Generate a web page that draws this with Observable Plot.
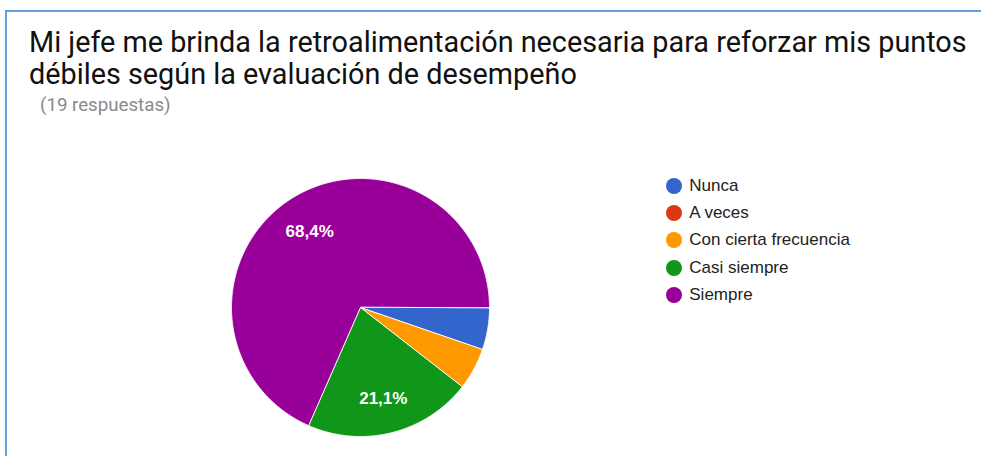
<!DOCTYPE html>
<html>
<head>
<meta charset="utf-8">
<script src="https://cdn.jsdelivr.net/npm/d3@7"></script>
<script src="https://cdn.jsdelivr.net/npm/@observablehq/plot@0.6"></script>
<style>
  html, body { margin: 0; padding: 0; background: #fff; }
  #root { position: relative; width: 981px; height: 456px; overflow: hidden; }
  #frame { position: absolute; left: 5px; top: 10px; width: 990px; height: 460px;
           border-left: 2px solid #64a0dc; border-top: 2px solid #64a0dc; }
  #title { position: absolute; left: 29px; top: 27px; width: 950px;
           font-family: Roboto, "Noto Sans", sans-serif; font-size: 28.8px; line-height: 31.5px; color: #111; }
  #subtitle { position: absolute; left: 40px; top: 93.5px;
           font-family: Roboto, "Noto Sans", sans-serif; font-size: 18.7px; line-height: 22px; color: #8a8a8a; }
  #pie { position: absolute; left: 228.5px; top: 175.5px; }
  #legend { position: absolute; left: 665.7px; top: 172px;
            font-family: "Liberation Sans", Arial, sans-serif; font-size: 17px; color: #222; }
  .row { display: flex; align-items: center; height: 27.4px; white-space: nowrap; }
  .dot { width: 16px; height: 16px; border-radius: 50%; margin-right: 7.6px; flex: none; }
</style>
</head>
<body>
<div id="root">
  <div id="frame"></div>
  <div id="title"></div>
  <div id="subtitle"></div>
  <div id="pie"></div>
  <div id="legend"></div>
</div>
<script>
const titleText = "Mi jefe me brinda la retroalimentación necesaria para reforzar mis puntos débiles según la evaluación de desempeño";
const subtitleText = "(19 respuestas)";
const categories = ["Nunca", "A veces", "Con cierta frecuencia", "Casi siempre", "Siempre"];
const counts = [1, 0, 1, 4, 13];
const colors = ["#3366cc", "#dc3912", "#ff9900", "#109618", "#990099"];

document.getElementById("title").textContent = titleText;
document.getElementById("subtitle").textContent = subtitleText;

const data = categories.map((label, i) => ({label, count: counts[i]}));
const total = d3.sum(counts);
const arcs = d3.pie().value(d => d.count).sort(null)
  .startAngle(Math.PI / 2).endAngle(Math.PI / 2 + 2 * Math.PI)(data);

// polygon vertices of each slice (unit circle, angle clockwise from north)
const pts = [];
for (const a of arcs) {
  if (a.data.count === 0) continue;
  pts.push({label: a.data.label, x: 0, y: 0});
  const n = Math.max(2, Math.ceil((a.endAngle - a.startAngle) / 0.005));
  for (let k = 0; k <= n; k++) {
    const t = a.startAngle + (a.endAngle - a.startAngle) * k / n;
    pts.push({label: a.data.label, x: Math.sin(t), y: Math.cos(t)});
  }
}

const labelR = 0.72;
const labels = arcs.filter(a => a.data.count / total >= 0.1).map(a => {
  const m = (a.startAngle + a.endAngle) / 2;
  return {
    x: labelR * Math.sin(m), y: labelR * Math.cos(m),
    text: (a.data.count / total * 100).toFixed(1).replace(".", ",") + "%"
  };
});

const chart = Plot.plot({
  width: 262, height: 262,
  margin: 2,
  x: {domain: [-1, 1], axis: null},
  y: {domain: [-1, 1], axis: null},
  color: {domain: categories, range: colors},
  style: {background: "transparent", overflow: "visible"},
  marks: [
    Plot.line(pts, {x: "x", y: "y", z: "label", fill: "label", stroke: "white", strokeWidth: 1, curve: "linear-closed"}),
    Plot.text(labels, {x: "x", y: "y", dy: 1.5, text: "text", fill: "white", fontSize: 17, fontWeight: "bold",
                       fontFamily: "Liberation Sans, Arial, sans-serif"})
  ]
});
document.getElementById("pie").appendChild(chart);

const legend = document.getElementById("legend");
categories.forEach((c, i) => {
  const row = document.createElement("div");
  row.className = "row";
  const dot = document.createElement("span");
  dot.className = "dot";
  dot.style.background = colors[i];
  const txt = document.createElement("span");
  txt.textContent = c;
  row.appendChild(dot);
  row.appendChild(txt);
  legend.appendChild(row);
});
</script>
</body>
</html>
